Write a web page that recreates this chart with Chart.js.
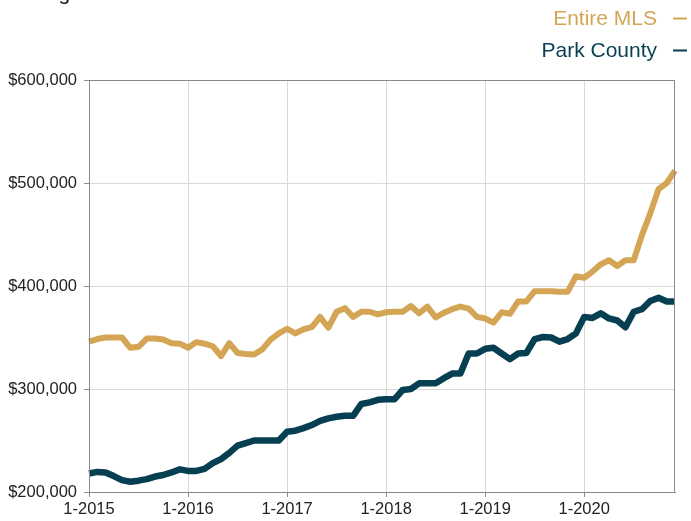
<!DOCTYPE html>
<html><head><meta charset="utf-8">
<script src="https://cdn.jsdelivr.net/npm/chart.js@4/dist/chart.umd.min.js"></script>
<style>html,body{margin:0;padding:0;background:#fff;overflow:hidden}#wrap{width:691px;height:521px;position:relative}</style>
</head><body><div id="wrap"><canvas id="c" width="691" height="521"></canvas></div>
<script>
const titleText = "Rolling 12-Month Median Sales Price";
const years = [2015, 2016, 2017, 2018, 2019, 2020];
const monthNums = [1,2,3,4,5,6,7,8,9,10,11,12];
const seriesNames = ["Entire MLS", "Park County"];
const entireMLS = [
  346000,348500,350000,350000,350000,340000,341000,349000,349000,348000,344500,344000,
  340000,345500,344000,341500,332000,344500,335000,334000,333500,338500,348000,354000,
  358500,354000,358000,360000,370000,359500,375000,378500,370000,375000,375000,372500,
  374500,375000,375000,380500,373500,380000,369500,374000,377500,380000,378000,370000,
  368500,364500,374500,373000,385000,385000,395000,395000,395000,394500,394500,409500,
  408000,414000,421000,425000,419500,425000,425000,449500,470500,494000,500000,512000
];
const parkCounty = [
  218000,219500,219000,215500,211500,210000,211000,212500,215000,216500,219000,222000,
  220500,220500,222500,228000,232000,238000,245000,247500,250000,250000,250000,250000,
  258500,259500,262000,265000,269000,271500,273000,274000,274000,285500,287000,289500,
  290000,290000,299000,300000,305500,305500,305500,310500,315000,315000,334500,334500,
  339000,340000,334500,329000,334500,335000,348500,350500,350000,346000,348500,354000,
  370000,369000,373500,368500,366500,360000,375000,377500,385500,388500,385000,385000
];
const yTicks = [200000, 300000, 400000, 500000, 600000];

const labels = [];
years.forEach(y => monthNums.forEach(m => labels.push(m + '-' + y)));

const GOLD = '#D3A555';
const TEAL = '#073F52';
const FONT = '"Liberation Sans", Arial, Helvetica, sans-serif';

const decor = {
  id: 'decor',
  afterDraw(chart) {
    const ctx = chart.ctx, a = chart.chartArea;
    ctx.save();
    ctx.strokeStyle = '#8a8a8a';
    ctx.lineWidth = 1;
    ctx.strokeRect(Math.round(a.left) + 0.5, Math.round(a.top) + 0.5,
                   Math.round(a.right - a.left) - 1, Math.round(a.bottom - a.top));
    // title (cut off at top)
    ctx.fillStyle = '#111';
    ctx.font = '21px ' + FONT;
    ctx.textAlign = 'left';
    ctx.textBaseline = 'alphabetic';
    ctx.fillText(titleText, 6, 0);
    // legend
    const items = [[seriesNames[0], GOLD, 25, 18.5], [seriesNames[1], TEAL, 56.5, 50.5]];
    ctx.textAlign = 'right';
    items.forEach(([t, c, by, ly]) => {
      ctx.fillStyle = c;
      ctx.fillText(t, 657, by);
      ctx.strokeStyle = c;
      ctx.lineWidth = 2;
      ctx.beginPath();
      ctx.moveTo(673, ly);
      ctx.lineTo(687, ly);
      ctx.stroke();
    });
    ctx.restore();
  }
};

new Chart(document.getElementById('c'), {
  type: 'line',
  data: {
    labels: labels,
    datasets: [
      { label: seriesNames[0], data: entireMLS, borderColor: GOLD, borderWidth: 6,
        pointRadius: 0, tension: 0, borderJoinStyle: 'round', borderCapStyle: 'butt', fill: false },
      { label: seriesNames[1], data: parkCounty, borderColor: TEAL, borderWidth: 6.5,
        pointRadius: 0, tension: 0, borderJoinStyle: 'round', borderCapStyle: 'butt', fill: false }
    ]
  },
  options: {
    responsive: false,
    animation: false,
    events: [],
    layout: { padding: { top: 80, right: 16, left: 0, bottom: 0 } },
    plugins: { legend: { display: false }, tooltip: { enabled: false }, title: { display: false } },
    scales: {
      x: {
        type: 'category',
        offset: false,
        afterFit(s) { s.height = 29; },
        border: { color: '#8a8a8a', width: 1 },
        grid: {
          offset: false,
          tickLength: 5,
          color: c => (c.index % 12 === 0 && c.index > 0) ? '#d9d9d9' : 'rgba(0,0,0,0)',
          tickColor: c => (c.index % 12 === 0) ? '#8a8a8a' : 'rgba(0,0,0,0)'
        },
        ticks: {
          autoSkip: false, maxRotation: 0, minRotation: 0, padding: 3,
          color: '#222', font: { family: FONT, size: 16.5 },
          callback: (v, i) => (i % 12 === 0) ? labels[i] : ''
        }
      },
      y: {
        min: yTicks[0], max: yTicks[yTicks.length - 1],
        afterFit(s) { s.width = 89; },
        afterBuildTicks(s) { s.ticks = yTicks.map(v => ({ value: v })); },
        border: { color: '#8a8a8a', width: 1 },
        grid: {
          tickLength: 5,
          color: c => (c.tick && (c.tick.value === yTicks[0] || c.tick.value === yTicks[yTicks.length-1])) ? 'rgba(0,0,0,0)' : '#d9d9d9',
          tickColor: '#8a8a8a'
        },
        ticks: {
          padding: 7, color: '#222', font: { family: FONT, size: 16.5 },
          callback: v => '$' + Number(v).toLocaleString('en-US')
        }
      }
    }
  },
  plugins: [decor]
});
</script>
</body></html>
